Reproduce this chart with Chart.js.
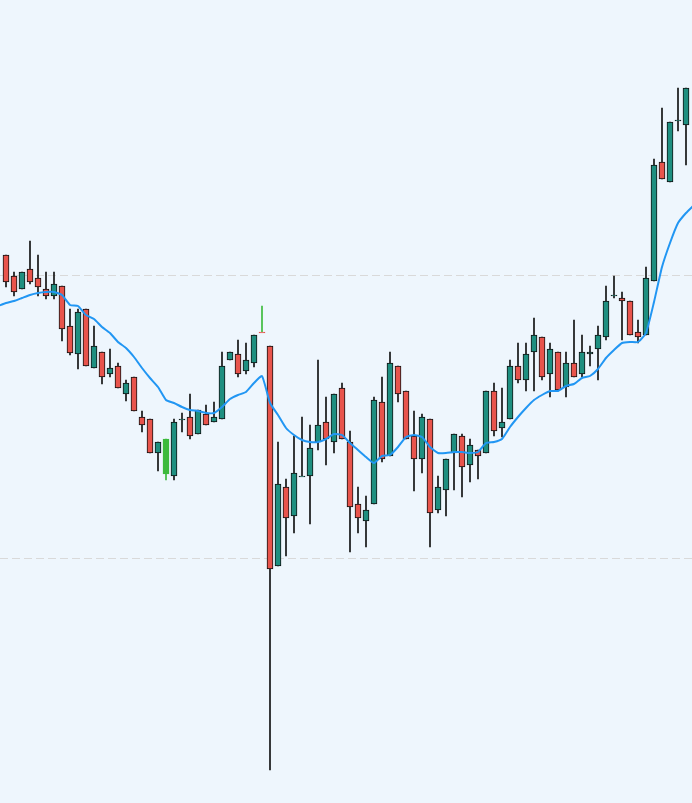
<!DOCTYPE html>
<html><head><meta charset="utf-8">
<script src="https://cdn.jsdelivr.net/npm/chart.js@4"></script>
<style>html,body{margin:0;padding:0;background:#eef6fd;}#wrap{width:692px;height:803px;}</style>
</head><body><div id="wrap"><canvas id="c"></canvas></div>
<script>
// values are price levels on an inverted axis (larger = lower on screen)
const opens  = [255,276,289,269,278,289,296,286,326,354,309,368,352,374,366,394,377,417,419,453,474,476,419,417,434,414,422,419,360,354,371,363,332,346,566,487,516,476,476,442,422,442,388,442,504,521,504,402,456,366,391,436,459,419,510,490,453,436,465,450,453,391,428,419,366,380,352,337,374,352,387,363,374,354,349,337,295,298,301,332,335,281,162,182,120,125];
const highs  = [255,272,272,241,255,272,272,286,309,309,309,326,352,349,363,380,377,411,419,442,439,419,413,394,410,405,402,352,352,340,343,335,306,346,442,479,436,417,425,360,397,394,383,431,487,496,397,377,352,366,391,411,414,419,476,459,434,434,439,450,391,383,388,360,343,343,318,337,343,352,352,320,335,346,326,286,276,292,301,320,267,159,108,122,88,88];
const lows   = [287,296,289,284,296,299,299,341,355,369,366,368,384,377,388,401,411,432,453,471,480,480,432,439,434,425,422,419,360,377,374,367,332,770,566,556,533,476,524,450,465,453,439,552,533,547,504,462,456,402,439,491,473,547,513,516,490,497,482,479,453,436,437,419,383,391,391,380,397,390,397,377,377,366,380,340,298,340,335,343,335,281,179,182,131,165];
const closes = [282,292,272,282,287,296,284,329,353,312,366,346,377,368,388,383,411,425,453,442,439,422,419,436,410,425,417,366,352,374,360,335,332,569,484,518,473,476,448,425,439,394,439,507,518,510,400,459,363,394,439,459,417,513,487,459,434,467,445,456,391,431,422,366,380,354,335,377,349,390,363,377,352,352,335,301,295,301,335,337,278,165,179,122,120,88];
const maLine = [306,303,301,298,295,293,292,292,295,305,306,315,319,327,333,342,348,357,368,378,387,400,403,407,410,411,413,413,407,399,395,392,383,376,403,415,428,435,440,442,442,439,434,435,443,450,457,463,456,455,447,437,435,437,447,453,453,452,452,453,452,443,442,439,427,417,408,400,395,391,391,386,384,378,376,369,358,350,343,342,342,333,302,267,243,223,213,205];
const gridLevels = [275,558];

const RED='#e8544c', TEAL='#1f8f80', GREEN='#3cba3c';
const n = opens.length;
const bodyColor = [], bodyBorder = [], wickColor = [];
for (let i=0;i<n;i++){
  let c = closes[i] > opens[i] ? RED : TEAL;
  bodyColor.push(c); bodyBorder.push('#111'); wickColor.push('#111');
}
bodyColor[20]=GREEN; bodyBorder[20]=GREEN; wickColor[20]=GREEN;
bodyColor[32]=RED; bodyBorder[32]=RED; wickColor[32]=GREEN;

const bodies = opens.map((o,i)=>{
  let a=o, b=closes[i]; if (Math.abs(a-b)<1){ b=a+1; }
  return {x:i+1, y:[a,b]};
});
const wicks = opens.map((o,i)=>({x:i+1, y:[highs[i], lows[i]]}));
const ma = maLine.map((v,i)=>({x:i, y:v}));

const gridPlugin = {id:'g', beforeDatasetsDraw(chart){
  const ctx=chart.ctx, ys=chart.scales.y;
  ctx.save(); ctx.strokeStyle='#d9d9d9'; ctx.lineWidth=1; ctx.setLineDash([8,4]);
  gridLevels.forEach(v=>{const p=Math.round(ys.getPixelForValue(v))+0.5;
    ctx.beginPath(); ctx.moveTo(0,p); ctx.lineTo(chart.width,p); ctx.stroke();});
  ctx.restore();
}};

new Chart(document.getElementById('c'),{
  data:{datasets:[
    {type:'line', data:ma, borderColor:'#2196f3', borderWidth:2, pointRadius:0, tension:0.15, order:0},
    {type:'bar', data:bodies, backgroundColor:bodyColor, borderColor:bodyBorder, borderWidth:1, borderSkipped:false, barThickness:6, grouped:false, order:1},
    {type:'bar', data:wicks, backgroundColor:wickColor, borderWidth:0, barThickness:1, grouped:false, order:2}
  ]},
  options:{responsive:true, maintainAspectRatio:false, animation:false,
    layout:{padding:0},
    plugins:{legend:{display:false}, tooltip:{enabled:false}},
    scales:{
      x:{type:'linear', min:0.25, max:86.75, offset:false, display:false},
      y:{min:0, max:803, reverse:true, display:false}
    }
  },
  plugins:[gridPlugin]
});
</script></body></html>
